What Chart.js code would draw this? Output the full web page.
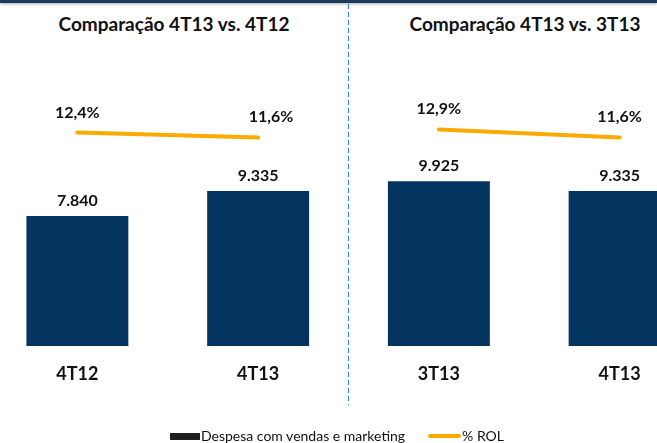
<!DOCTYPE html>
<html>
<head>
<meta charset="utf-8">
<script src="https://cdn.jsdelivr.net/npm/chart.js@4/dist/chart.umd.min.js"></script>
<style>
  html, body { margin:0; padding:0; width:657px; height:443px; overflow:hidden; background:#fff; }
  body { position:relative; font-family: Lato, "Open Sans", sans-serif; color:#111; }
  #topRule { position:absolute; left:0; top:0; width:657px; height:3px; background:#1d3a5e; box-shadow:0 1px 3px rgba(0,0,0,0.35); }
  .title { position:absolute; top:12px; width:300px; font-weight:bold; font-size:19px; line-height:24px; text-align:center; white-space:nowrap; }
  #wrap { position:absolute; left:-13px; top:0; width:723px; height:443px; }
  #legend { position:absolute; left:0; top:427px; width:674px; display:flex; justify-content:center; align-items:center; font-size:14px; line-height:18px; color:#111; }
  #legend .item { display:flex; align-items:center; }
  #legend .item + .item { margin-left:23px; }
  #legend .sw { margin-right:1px; }
</style>
</head>
<body>
<div id="topRule"></div>
<div id="title0" class="title" style="left:24px"></div>
<div id="title1" class="title" style="left:375px"></div>
<div id="wrap"><canvas id="chart"></canvas></div>
<div id="legend"></div>

<script>
// data
const periods = ["4T12", "4T13", "3T13", "4T13"];
const despesa = [7840, 9335, 9925, 9335];
const rol = [12.4, 11.6, 12.9, 11.6];
const titles = ["Comparação 4T13 vs. 4T12", "Comparação 4T13 vs. 3T13"];

const BAR = "#03345f";
const ORANGE = "#fbaa00";

function fmtInt(v) {
  return String(v).replace(/\B(?=(\d{3})+(?!\d))/g, ".");
}
function fmtPct(v) {
  return v.toFixed(1).replace(".", ",") + "%";
}

document.getElementById("title0").innerText = titles[0];
document.getElementById("title1").innerText = titles[1];

// values over bars and line points
const valueLabels = {
  id: "valueLabels",
  afterDatasetsDraw(chart, args, opts) {
    const ctx = chart.ctx;
    ctx.save();
    ctx.fillStyle = "#111";
    ctx.textAlign = "center";
    ctx.textBaseline = "alphabetic";
    ctx.font = "bold 16px Lato";
    chart.data.datasets.forEach((ds, i) => {
      const meta = chart.getDatasetMeta(i);
      meta.data.forEach((el, j) => {
        const v = ds.data[j];
        if (ds.type === "line") {
          ctx.fillText(fmtPct(v), el.x + (opts.pctNudge[j] || 0), el.y - 15);
        } else {
          ctx.fillText(fmtInt(v), el.x, el.y - 10);
        }
      });
    });
    ctx.restore();
  }
};

// dashed divider between the two comparisons
const divider = {
  id: "divider",
  beforeDatasetsDraw(chart) {
    const xs = chart.scales.x;
    const px = Math.floor((xs.getPixelForValue(1) + xs.getPixelForValue(2)) / 2) + 0.5;
    const ctx = chart.ctx;
    ctx.save();
    ctx.strokeStyle = "#3f84c8";
    ctx.lineWidth = 1.2;
    ctx.setLineDash([5, 3]);
    ctx.beginPath();
    ctx.moveTo(px, 4);
    ctx.lineTo(px, 405);
    ctx.stroke();
    ctx.restore();
  }
};

const chart = new Chart(document.getElementById("chart"), {
  data: {
    labels: periods,
    datasets: [
      {
        type: "line",
        label: "% ROL",
        data: rol,
        yAxisID: "y1",
        borderColor: ORANGE,
        backgroundColor: ORANGE,
        borderWidth: 4,
        borderCapStyle: "round",
        pointRadius: 0,
        tension: 0,
        segment: {
          borderColor: c => c.p0DataIndex === 1 ? "rgba(0,0,0,0)" : undefined
        }
      },
      {
        type: "bar",
        label: "Despesa com vendas e marketing",
        data: despesa,
        yAxisID: "y",
        backgroundColor: BAR,
        legendColor: "#1f1f1f",
        categoryPercentage: 1,
        barPercentage: 0.564
      }
    ]
  },
  options: {
    responsive: true,
    maintainAspectRatio: false,
    animation: false,
    layout: { padding: 0 },
    plugins: {
      legend: { display: false },
      tooltip: { enabled: false },
      valueLabels: { pctNudge: [0, 13, 0, 0] }
    },
    scales: {
      x: {
        grid: { display: false, drawTicks: false },
        border: { display: false },
        ticks: { color: "#111", font: { family: "Lato", size: 18, weight: "bold" }, padding: 17 },
        afterFit(scale) { scale.height = 97; }
      },
      y: { display: false, min: 0, max: 20850 },
      y1: { display: false, min: -22.03, max: 33.77 }
    }
  },
  plugins: [valueLabels, divider]
});

// legend
const legendEl = document.getElementById("legend");
[chart.data.datasets[1], chart.data.datasets[0]].forEach(ds => {
  const item = document.createElement("div");
  item.className = "item";
  const sw = document.createElement("span");
  sw.className = "sw";
  if (ds.type === "line") {
    sw.style.cssText = "display:inline-block;width:33px;height:4px;border-radius:2px;background:" + ds.borderColor;
  } else {
    sw.style.cssText = "display:inline-block;width:30px;height:7px;background:" + ds.legendColor;
  }
  const txt = document.createElement("span");
  txt.innerText = ds.label;
  item.appendChild(sw);
  item.appendChild(txt);
  legendEl.appendChild(item);
});
</script>
</body>
</html>
